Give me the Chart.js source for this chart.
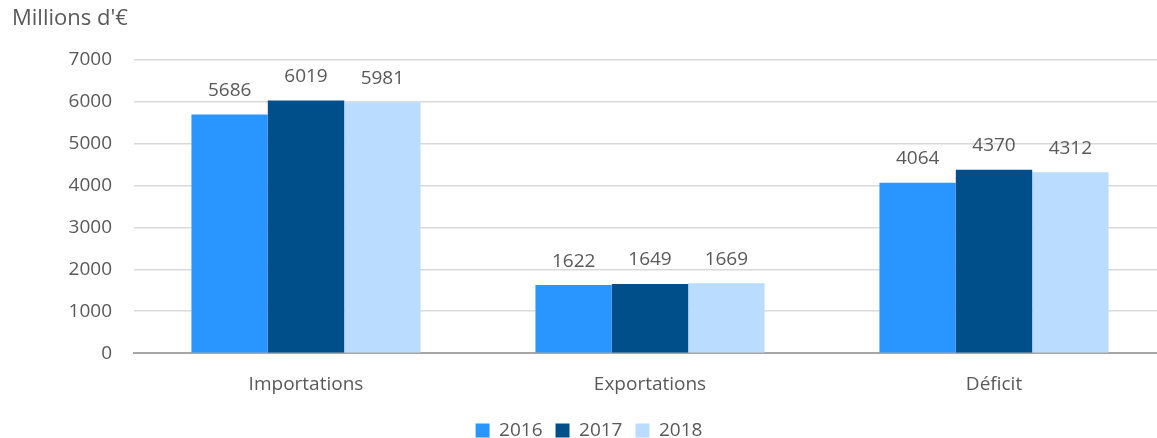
<!DOCTYPE html>
<html>
<head>
<meta charset="utf-8">
<script src="https://cdn.jsdelivr.net/npm/chart.js@4"></script>
<style>
  html, body { margin: 0; padding: 0; background: #fff; overflow: hidden; }
  #wrap { width: 1166px; height: 438px; }
</style>
</head>
<body>
<div id="wrap"><canvas id="chart"></canvas></div>
<script>
const categories = ['Importations', 'Exportations', 'Déficit']
const years = ['2016', '2017', '2018']
const values2016 = [5686, 1622, 4064]
const values2017 = [6019, 1649, 4370]
const values2018 = [5981, 1669, 4312]
const yTicks = [0, 1000, 2000, 3000, 4000, 5000, 6000, 7000]

const colors = ['#2996FF', '#004E8A', '#BADCFE']
const textColor = '#595959'
const fontFamily = 'Open Sans, Liberation Sans, sans-serif'

// labels au-dessus des barres
const valueLabels = {
    id: 'valueLabels',
    afterDatasetsDraw(chart) {
        const ctx = chart.ctx
        ctx.save()
        ctx.font = '19px ' + fontFamily
        ctx.fillStyle = textColor
        ctx.textAlign = 'center'
        ctx.textBaseline = 'middle'
        chart.data.datasets.forEach((ds, i) => {
            chart.getDatasetMeta(i).data.forEach((bar, j) => {
                ctx.fillText(ds.data[j], bar.x, bar.y - 24)
            })
        })
        ctx.restore()
    }
}

const data = {
    labels: categories,
    datasets: [
        { label: years[0], data: values2016, backgroundColor: colors[0] },
        { label: years[1], data: values2017, backgroundColor: colors[1] },
        { label: years[2], data: values2018, backgroundColor: colors[2] }
    ]
}

new Chart(document.getElementById('chart'), {
    type: 'bar',
    data: data,
    plugins: [valueLabels],
    options: {
        responsive: true,
        maintainAspectRatio: false,
        animation: false,
        layout: { padding: { left: 12, right: 0, top: 0, bottom: -12 } },
        datasets: { bar: { categoryPercentage: 0.666, barPercentage: 1 } },
        plugins: {
            title: {
                display: true,
                text: "Millions d'€",
                align: 'start',
                color: textColor,
                font: { family: fontFamily, size: 22, weight: 'normal' },
                padding: { top: 6, bottom: 27 }
            },
            legend: {
                position: 'bottom',
                labels: {
                    color: textColor,
                    font: { family: fontFamily, size: 19 },
                    boxWidth: 14,
                    boxHeight: 14,
                    padding: 13
                }
            },
            tooltip: { enabled: false }
        },
        scales: {
            x: {
                grid: { display: false },
                border: { color: '#A6A6A6', width: 2 },
                ticks: { color: textColor, font: { family: fontFamily, size: 19 }, padding: 12 }
            },
            y: {
                min: 0,
                max: 7000,
                afterBuildTicks: axis => { axis.ticks = yTicks.map(v => ({ value: v })) },
                afterFit: axis => { axis.width = 122 },
                grid: { color: '#D9D9D9', lineWidth: 1.5, drawTicks: false },
                border: { display: false },
                ticks: {
                    color: textColor,
                    font: { family: fontFamily, size: 19 },
                    padding: 22,
                    callback: v => String(v)
                }
            }
        }
    }
})
</script>
</body>
</html>
